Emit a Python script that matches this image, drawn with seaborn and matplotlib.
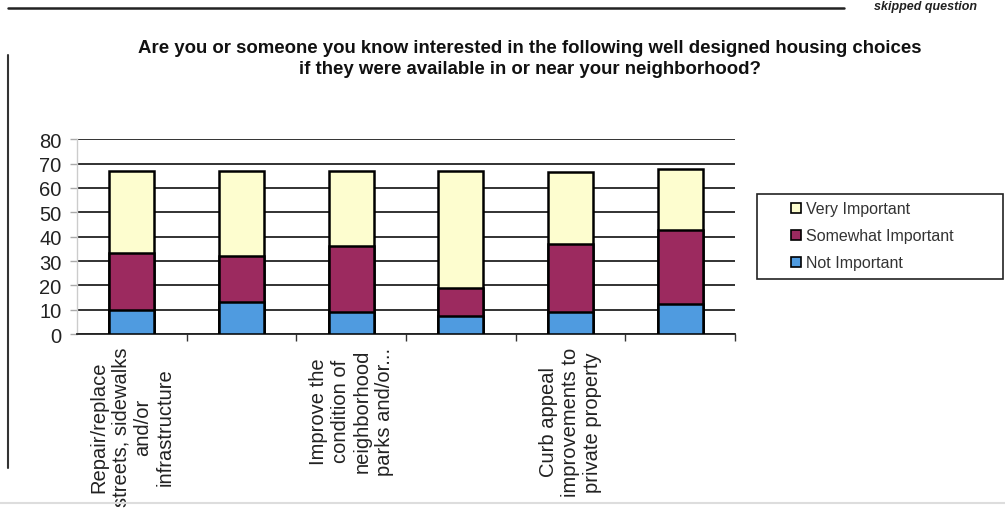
import matplotlib
matplotlib.use("Agg")
import matplotlib.pyplot as plt
import seaborn as sns
import pandas as pd
import numpy as np
from matplotlib.patches import Patch, Rectangle

# ---- data ----
categories = ["c1", "c2", "c3", "c4", "c5", "c6"]
tick_labels = [
    "Repair/replace\nstreets, sidewalks\nand/or\ninfrastructure",
    "",
    "Improve the\ncondition of\nneighborhood\nparks and/or...",
    "",
    "Curb appeal\nimprovements to\nprivate property",
    "",
]
not_important = [10.0, 13.0, 9.0, 7.5, 9.0, 12.3]
somewhat_important = [23.3, 19.2, 27.0, 11.5, 28.0, 30.6]
very_important = [33.6, 34.8, 31.0, 48.0, 29.7, 25.0]
series_names = ["Very Important", "Somewhat Important", "Not Important"]
title = ("Are you or someone you know interested in the following well designed housing choices\n"
         "if they were available in or near your neighborhood?")
y_ticks = [0, 10, 20, 30, 40, 50, 60, 70, 80]

c_blue = "#4f9be0"
c_maroon = "#9c2a5f"
c_yellow = "#fdfdcf"

sns.set_theme(style="white")
plt.rcParams['font.family'] = ['Liberation Sans', 'DejaVu Sans']

df = pd.DataFrame({
    "cat": categories,
    "not": not_important,
    "some": somewhat_important,
    "very": very_important,
})
df["lvl2"] = df["not"] + df["some"]
df["lvl3"] = df["lvl2"] + df["very"]

W, H = 1005, 510
fig = plt.figure(figsize=(W / 100, H / 100), dpi=100)
ax = fig.add_axes([0.0766, 0.343, 0.6547, 0.382])

for ycol, col in [("lvl3", c_yellow), ("lvl2", c_maroon), ("not", c_blue)]:
    sns.barplot(data=df, x="cat", y=ycol, order=categories, color=col,
                width=0.41, edgecolor="black", linewidth=1.8, saturation=1,
                ax=ax, zorder=3)

ax.set_xlim(-0.5, 5.5)
ax.set_ylim(0, 80)
ax.set_yticks(y_ticks)
ax.set_yticklabels([str(v) for v in y_ticks], fontsize=14.5, color="#222222")
ax.set_xticks(range(len(categories)))
ax.set_xticklabels(tick_labels, rotation=90, fontsize=14.5, color="#222222",
                   multialignment="center", va="top", ha="center")
ax.set_xticks(np.arange(0.5, 6.0, 1.0), minor=True)
ax.tick_params(axis="x", which="major", length=0, pad=9)
ax.tick_params(axis="x", which="minor", length=5, width=1, color="#333333", bottom=True)
ax.tick_params(axis="y", length=5, width=1, color="#aaaaaa", left=True, pad=6)
ax.set_xlabel("")
ax.set_ylabel("")

ax.yaxis.grid(True, color="#222222", linewidth=1.3, zorder=0)
ax.set_axisbelow(True)
for s in ["top", "right"]:
    ax.spines[s].set_visible(False)
ax.spines["left"].set_color("#cccccc")
ax.spines["left"].set_linewidth(1)
ax.spines["bottom"].set_color("#222222")
ax.spines["bottom"].set_linewidth(1.3)

fig.text(0.527, 0.884, title, ha="center", va="center", fontsize=13.4,
         fontweight="bold", linespacing=1.3, color="#111111")

# legend (frameless) + separate frame rectangle
handles = [Patch(facecolor=c, edgecolor="black", linewidth=1.2)
           for c in [c_yellow, c_maroon, c_blue]]
leg = fig.legend(handles, series_names, loc="upper left",
                 bbox_to_anchor=(785 / W, 1 - 196 / H), frameon=False,
                 fontsize=11.5, handlelength=0.6, handleheight=0.6,
                 handletextpad=0.3, labelspacing=0.75, borderpad=0.4,
                 borderaxespad=0, labelcolor="#333333")
fig.add_artist(Rectangle((757 / W, 1 - 280 / H), 246 / W, 85 / H,
                         transform=fig.transFigure, fill=False,
                         edgecolor="#222222", linewidth=1.2))

# page frame lines
fig.add_artist(plt.Line2D([0.008, 0.84], [0.982, 0.982], color="#222222", linewidth=1.8))
fig.add_artist(plt.Line2D([0.008, 0.008], [0.08, 0.89], color="#333333", linewidth=1.5))
fig.add_artist(plt.Line2D([0.0, 1.0], [0.012, 0.012], color="#dddddd", linewidth=1.5))
fig.text(0.87, 0.999, "skipped question", ha="left", va="top", fontsize=9,
         fontstyle="italic", fontweight="bold", color="#222222")

fig.savefig("out.png", dpi=100)
